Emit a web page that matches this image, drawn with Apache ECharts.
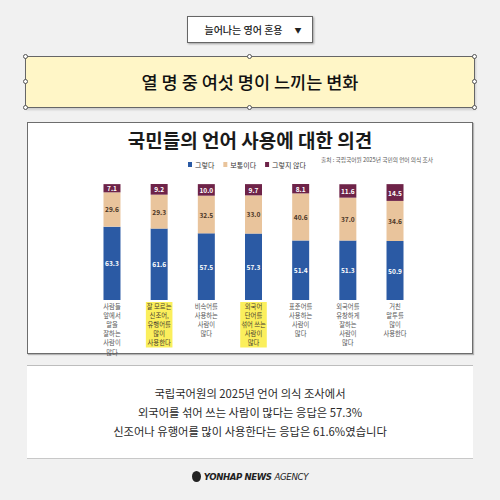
<!DOCTYPE html>
<html><head><meta charset="utf-8">
<script src="https://cdn.jsdelivr.net/npm/echarts@6/dist/echarts.min.js"></script>
<style>
html,body{margin:0;padding:0;}
body{width:500px;height:500px;background:#f1f1f1;position:relative;overflow:hidden;font-family:"Noto Sans CJK KR","Noto Sans",sans-serif;}
.abs{position:absolute;box-sizing:border-box;}
#tab{left:187px;top:16px;width:126px;height:27px;background:#fff;border:1px solid #666;box-shadow:1px 1px 2px rgba(0,0,0,.35);font-size:10px;color:#222;line-height:25px;text-align:center;font-weight:500;padding-left:6px;}
#tab span.arr{font-size:7px;margin-left:12px;position:relative;top:-1px;}
#banner{left:25px;top:56px;width:450px;height:52px;background:#fff6c7;border:1px solid #666;box-shadow:1px 2px 2px rgba(0,0,0,.15);font-size:17.5px;font-weight:500;color:#111;text-align:center;line-height:49px;}
.h{position:absolute;width:5px;height:5px;border:1px solid #555;border-radius:50%;background:#fff;box-sizing:border-box;}
#panel{left:27px;top:122px;width:446px;height:232px;background:#fff;border:1.5px solid #6d6d6d;box-shadow:1px 1px 1px rgba(0,0,0,.25);}
#textbox{left:27px;top:365px;width:446px;height:94px;background:#fff;border-top:1.5px solid #bdbdbd;border-bottom:1.5px solid #c8c8c8;}
#textbox div{text-align:center;font-size:11.3px;color:#2a2a2a;line-height:19px;}
#logo{left:0;top:471px;width:500px;text-align:center;font-family:"DejaVu Sans","Noto Sans",sans-serif;font-size:8.6px;color:#222;font-style:italic;}
#logo b{font-weight:900;letter-spacing:-0.4px;}
#logo .ag{letter-spacing:-0.3px;font-weight:300;}
#logo .ic{display:inline-block;width:9px;height:11px;border-radius:50%;background:#222;vertical-align:-2px;margin-right:3px;}
#chart{left:0;top:0;width:500px;height:500px;}
</style></head>
<body>
<div id="tab" class="abs">늘어나는 영어 혼용<span class="arr">▼</span></div>
<div id="banner" class="abs">열 명 중 여섯 명이 느끼는 변화</div>
<div class="h" style="left:23px;top:54px"></div>
<div class="h" style="left:23px;top:79px"></div>
<div class="h" style="left:23px;top:105px"></div>
<div class="h" style="left:472px;top:54px"></div>
<div class="h" style="left:472px;top:79px"></div>
<div class="h" style="left:472px;top:105px"></div>
<div class="h" style="left:247px;top:54px"></div>
<div class="h" style="left:247px;top:105px"></div>
<div id="panel" class="abs"></div>
<div id="textbox" class="abs">
  <div style="margin-top:18px">국립국어원의 2025년 언어 의식 조사에서</div>
  <div>외국어를 섞어 쓰는 사람이 많다는 응답은 57.3%</div>
  <div>신조어나 유행어를 많이 사용한다는 응답은 61.6%였습니다</div>
</div>
<div id="logo" class="abs"><span class="ic"></span><b>YONHAP NEWS</b> <span class="ag">AGENCY</span></div>
<div id="chart" class="abs"></div>
<script>
const categories = [
  "사람들\n앞에서\n말을\n잘하는\n사람이\n많다",
  "잘 모르는\n신조어,\n유행어를\n많이\n사용한다",
  "비속어를\n사용하는\n사람이\n많다",
  "외국어\n단어를\n섞어 쓰는\n사람이\n많다",
  "표준어를\n사용하는\n사람이\n많다",
  "외국어를\n유창하게\n잘하는\n사람이\n많다",
  "거친\n말투를\n많이\n사용한다"
];
const highlighted = [1, 3];
const seriesNames = ["그렇다", "보통이다", "그렇지 않다"];
const yes = [63.3, 61.6, 57.5, 57.3, 51.4, 51.3, 50.9];
const neutral = [29.6, 29.3, 32.5, 33.0, 40.6, 37.0, 34.6];
const no = [7.1, 9.2, 10.0, 9.7, 8.1, 11.6, 14.5];
const chartTitle = "국민들의 언어 사용에 대한 의견";
const sourceText = "출처 : 국립국어원 2025년 국민의 언어 의식 조사";

const font = '"Noto Sans CJK KR","Noto Sans",sans-serif';
const colors = ['#2b5aa4', '#e9c49c', '#6e2348'];
const labelColors = ['#ffffff', '#4a3526', '#ffffff'];
const chart = echarts.init(document.getElementById('chart'), null, {renderer: 'svg'});
const mk = (name, data, i) => ({
  name, type: 'bar', stack: 'all', data, barWidth: 17,
  itemStyle: {color: colors[i]},
  label: {show: true, position: 'inside', fontFamily: font, fontSize: 6.6, fontWeight: 'bold',
    color: labelColors[i], formatter: p => Number(p.value).toFixed(1)},
  emphasis: {disabled: true}
});
const catData = categories.map((c, i) => highlighted.includes(i)
  ? {value: c, textStyle: {backgroundColor: '#fbef5c', color: '#4a4030', padding: [0, 1]}}
  : c);
chart.setOption({
  backgroundColor: 'transparent',
  animation: false,
  textStyle: {fontFamily: font},
  title: {text: chartTitle, left: 'center', top: 125,
    textStyle: {fontFamily: font, fontSize: 19, fontWeight: 'bold', color: '#1a1a1a'}},
  legend: {data: seriesNames, left: 183, top: 156, icon: 'rect', itemWidth: 4, itemHeight: 5, itemGap: 9,
    textStyle: {fontFamily: font, fontSize: 7, color: '#333', padding: [0, 0, 0, -2]}},
  graphic: [{type: 'text', left: 321, top: 157, style: {text: sourceText, fontFamily: font, fontSize: 5.7, fill: '#555'}}],
  grid: {left: 88.4, right: 81.4, top: 184, bottom: 200},
  xAxis: {type: 'category', data: catData,
    axisLine: {show: false}, axisTick: {show: false},
    axisLabel: {interval: 0, margin: 2, lineHeight: 9.1, fontFamily: font, fontSize: 6.3, color: '#555'}},
  yAxis: {type: 'value', min: 0, max: 100.1, show: false, splitLine: {show: false}},
  series: [mk(seriesNames[0], yes, 0), mk(seriesNames[1], neutral, 1), mk(seriesNames[2], no, 2)]
});
</script>
</body></html>
